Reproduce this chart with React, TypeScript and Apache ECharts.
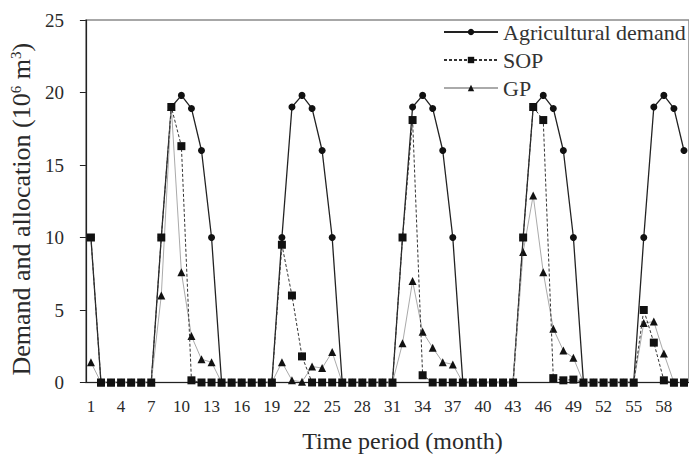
import React, { useEffect, useRef } from "react";
import * as echarts from "echarts";

const months = [
  "1", "2", "3", "4", "5", "6", "7", "8", "9", "10", "11", "12",
  "13", "14", "15", "16", "17", "18", "19", "20", "21", "22", "23", "24",
  "25", "26", "27", "28", "29", "30", "31", "32", "33", "34", "35", "36",
  "37", "38", "39", "40", "41", "42", "43", "44", "45", "46", "47", "48",
  "49", "50", "51", "52", "53", "54", "55", "56", "57", "58", "59", "60",
];

const demand = [
  10, 0, 0, 0, 0, 0, 0, 10, 19, 19.8, 18.9, 16,
  10, 0, 0, 0, 0, 0, 0, 10, 19, 19.8, 18.9, 16,
  10, 0, 0, 0, 0, 0, 0, 10, 19, 19.8, 18.9, 16,
  10, 0, 0, 0, 0, 0, 0, 10, 19, 19.8, 18.9, 16,
  10, 0, 0, 0, 0, 0, 0, 10, 19, 19.8, 18.9, 16,
];

const sop = [
  10, 0, 0, 0, 0, 0, 0, 10, 19, 16.3, 0.15, 0,
  0, 0, 0, 0, 0, 0, 0, 9.5, 6.0, 1.8, 0, 0,
  0, 0, 0, 0, 0, 0, 0, 10, 18.1, 0.5, 0, 0,
  0, 0, 0, 0, 0, 0, 0, 10, 19, 18.1, 0.3, 0.15,
  0.2, 0, 0, 0, 0, 0, 0, 5.0, 2.75, 0.15, 0, 0,
];

const gp = [
  1.4, 0, 0, 0, 0, 0, 0, 6.0, 19, 7.6, 3.2, 1.6,
  1.4, 0, 0, 0, 0, 0, 0, 1.4, 0.15, 0.05, 1.1, 1.0,
  2.1, 0, 0, 0, 0, 0, 0, 2.7, 7.0, 3.5, 2.4, 1.4,
  1.25, 0, 0, 0, 0, 0, 0, 9.0, 12.9, 7.6, 3.7, 2.2,
  1.7, 0, 0, 0, 0, 0, 0, 4.1, 4.2, 2.0, 0, 0,
];

const legendNames = ["Agricultural demand", "SOP", "GP"];

export default function App() {
  const ref = useRef<HTMLDivElement>(null);
  useEffect(() => {
    if (!ref.current) return;
    const chart = echarts.init(ref.current, null, { renderer: "svg" });
    const font = "'Liberation Serif', 'Times New Roman', serif";
    chart.setOption({
      animation: false,
      backgroundColor: "#ffffff",
      textStyle: { fontFamily: font, color: "#2a2a2a" },
      grid: {
        left: 85,
        right: -2,
        top: 20,
        bottom: 83.5,
        show: true,
        borderColor: "#8a8a8a",
        borderWidth: 1.5,
      },
      legend: {
        orient: "vertical",
        left: 438,
        top: 16,
        itemWidth: 54,
        itemHeight: 8,
        itemGap: 6,
        data: legendNames,
        textStyle: { fontSize: 22, color: "#333", fontFamily: font },
      },
      xAxis: {
        type: "category",
        data: months,
        boundaryGap: true,
        name: "Time period (month)",
        nameLocation: "middle",
        nameGap: 46,
        nameTextStyle: {
          fontSize: 24,
          color: "#2a2a2a",
          fontFamily: font,
          padding: [0, 0, 0, 30],
        },
        axisLine: { lineStyle: { color: "#222", width: 1.2 } },
        axisTick: { interval: 1, length: 5, lineStyle: { color: "#222" } },
        axisLabel: { interval: 2, fontSize: 17, margin: 15, color: "#2a2a2a", fontFamily: font },
        splitLine: { show: false },
      },
      yAxis: {
        type: "value",
        min: 0,
        max: 25,
        interval: 5,
        name: "Demand and allocation (10{s|6} m{s|3})",
        nameLocation: "middle",
        nameGap: 51,
        nameRotate: 90,
        nameTextStyle: {
          fontSize: 26,
          color: "#2a2a2a",
          fontFamily: font,
          padding: [0, 16, 0, 0],
          rich: {
            s: { fontSize: 15, verticalAlign: "top", color: "#2a2a2a", fontFamily: font },
          },
        },
        axisLine: { show: true, lineStyle: { color: "#222", width: 1.2 } },
        axisTick: { show: true, length: 6, lineStyle: { color: "#222" } },
        axisLabel: { fontSize: 19, margin: 22, color: "#2a2a2a", fontFamily: font },
        splitLine: { show: false },
      },
      series: [
        {
          name: "Agricultural demand",
          type: "line",
          data: demand,
          symbol: "circle",
          symbolSize: 7,
          showAllSymbol: true,
          lineStyle: { color: "#222", width: 1.3 },
          itemStyle: { color: "#111" },
          z: 2,
        },
        {
          name: "SOP",
          type: "line",
          data: sop,
          symbol: "rect",
          symbolSize: 8,
          showAllSymbol: true,
          lineStyle: { color: "#333", width: 1, type: [3, 2] },
          itemStyle: { color: "#111" },
          z: 4,
        },
        {
          name: "GP",
          type: "line",
          data: gp,
          symbol: "triangle",
          symbolSize: 8,
          showAllSymbol: true,
          lineStyle: { color: "#aaaaaa", width: 1 },
          itemStyle: { color: "#111" },
          z: 3,
        },
      ],
    });
    return () => chart.dispose();
  }, []);
  return (
    <div
      ref={ref}
      style={{ position: "fixed", left: 0, top: 0, width: 689, height: 466 }}
    />
  );
}
